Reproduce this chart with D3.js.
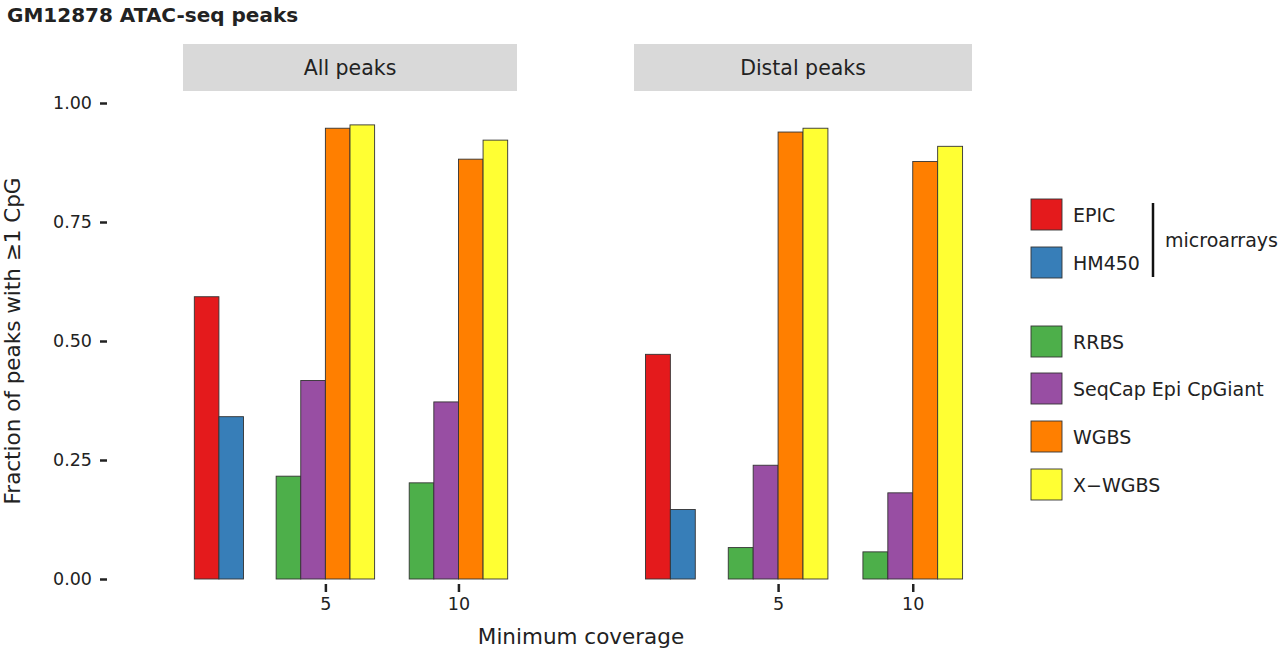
<!DOCTYPE html>
<html>
<head>
<meta charset="utf-8">
<script src="https://cdn.jsdelivr.net/npm/d3@7"></script>
<style>
  body { margin: 0; background: #fff; }
  svg text { font-family: "DejaVu Sans", Lato, sans-serif; fill: #222; }
</style>
</head>
<body>
<div id="chart"></div>
<script>
const panels = ["All peaks", "Distal peaks"];
const methods = ["EPIC", "HM450", "RRBS", "SeqCap Epi CpGiant", "WGBS", "X\u2212WGBS"];
const colors = ["#E41A1C", "#377EB8", "#4DAF4A", "#984EA3", "#FF7F00", "#FFFF33"];
const positions = [1, 5, 10];          // x position of each coverage group
const posLabels = ["", "5", "10"];
const yTicks = [0, 0.25, 0.5, 0.75, 1];

// values: [All peaks, Distal peaks]
const microarray = [[0.593, 0.341], [0.472, 0.146]];          // EPIC, HM450
const coverage5 = [[0.216, 0.417, 0.947, 0.954], [0.066, 0.239, 0.939, 0.947]];
const coverage10 = [[0.202, 0.372, 0.882, 0.922], [0.057, 0.181, 0.877, 0.909]];

const W = 1280, H = 650;
const svg = d3.select("#chart").append("svg").attr("width", W).attr("height", H);

const y = d3.scaleLinear().domain([0, 1]).range([579, 103]);
const panelRanges = [[183, 517], [634, 972]];
const barW = 0.925;

svg.append("text").attr("x", 7).attr("y", 22)
  .attr("font-size", 20).attr("font-weight", 700).attr("fill", "#111").text("GM12878 ATAC-seq peaks");

// y axis
const yAxis = svg.append("g").attr("transform", "translate(107,0)")
  .call(d3.axisLeft(y).tickValues(yTicks).tickFormat(d3.format(".2f")).tickSize(7).tickPadding(8));
yAxis.select(".domain").remove();
yAxis.selectAll(".tick line").attr("stroke", "#222").attr("stroke-width", 2.5);
yAxis.selectAll(".tick text").attr("font-size", 17.5).attr("font-family", "DejaVu Sans, sans-serif").attr("fill", "#333");

svg.append("text")
  .attr("transform", "translate(20,341) rotate(-90)")
  .attr("text-anchor", "middle").attr("font-size", 21.5)
  .text("Fraction of peaks with \u22651 CpG");

panels.forEach((name, p) => {
  const x = d3.scaleLinear().domain([-0.35, 12.2]).range(panelRanges[p]);
  const g = svg.append("g");

  // strip
  g.append("rect").attr("x", panelRanges[p][0]).attr("y", 44)
    .attr("width", panelRanges[p][1] - panelRanges[p][0]).attr("height", 47)
    .attr("fill", "#d9d9d9");
  g.append("text").attr("x", (panelRanges[p][0] + panelRanges[p][1]) / 2).attr("y", 75)
    .attr("text-anchor", "middle").attr("font-size", 20.5).attr("fill", "#1a1a1a").text(name);

  const bars = [];
  microarray[p].forEach((v, i) => bars.push({pos: positions[0], off: i - 0.5, m: i, v}));
  coverage5[p].forEach((v, i) => bars.push({pos: positions[1], off: i - 1.5, m: i + 2, v}));
  coverage10[p].forEach((v, i) => bars.push({pos: positions[2], off: i - 1.5, m: i + 2, v}));

  g.selectAll("rect.bar").data(bars).join("rect")
    .attr("class", "bar")
    .attr("x", d => x(d.pos + (d.off - 0.5) * barW))
    .attr("width", d => x(barW) - x(0))
    .attr("y", d => y(d.v))
    .attr("height", d => y(0) - y(d.v))
    .attr("fill", d => colors[d.m])
    .attr("stroke", "#333").attr("stroke-width", 0.9);

  const xAxis = g.append("g").attr("transform", "translate(0,584)")
    .call(d3.axisBottom(x).tickValues(positions.slice(1))
      .tickFormat(d => posLabels[positions.indexOf(d)]).tickSize(8).tickPadding(6));
  xAxis.select(".domain").remove();
  xAxis.selectAll(".tick line").attr("stroke", "#222").attr("stroke-width", 2.5);
  xAxis.selectAll(".tick text").attr("font-size", 17.5).attr("font-family", "DejaVu Sans, sans-serif").attr("fill", "#333");
});

svg.append("text").attr("x", 581).attr("y", 644)
  .attr("text-anchor", "middle").attr("font-size", 21.5).text("Minimum coverage");

// legend
const legendY = [199, 247, 326, 373, 421, 469];
const leg = svg.append("g");
methods.forEach((m, i) => {
  leg.append("rect").attr("x", 1031).attr("y", legendY[i]).attr("width", 31).attr("height", 31)
    .attr("fill", colors[i]).attr("stroke", "#333").attr("stroke-width", 0.9);
  leg.append("text").attr("x", 1073).attr("y", legendY[i] + 16).attr("dy", "0.35em")
    .attr("font-size", 19).text(m);
});
leg.append("line").attr("x1", 1153).attr("x2", 1153).attr("y1", 203).attr("y2", 277)
  .attr("stroke", "#111").attr("stroke-width", 2.5);
leg.append("text").attr("x", 1165).attr("y", 240).attr("dy", "0.35em")
  .attr("font-size", 19).text("microarrays");
</script>
</body>
</html>
